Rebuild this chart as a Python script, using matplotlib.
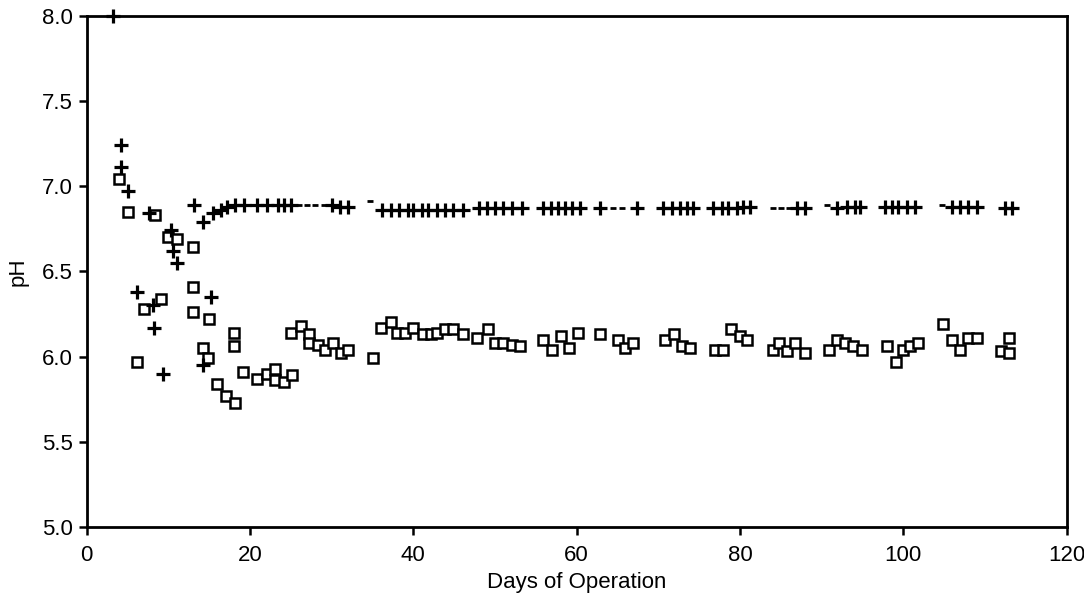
import matplotlib
matplotlib.use("Agg")
import matplotlib.pyplot as plt

plt.rcParams['font.family'] = ['Liberation Sans', 'DejaVu Sans']

# --- pH readings (day, pH) ---

# "+" series
plus_days = [3.2, 4.2, 4.2, 5.1, 7.6, 6.2, 8.1, 8.2, 9.3, 10.3, 10.6, 11.1,
             13.1, 14.3, 14.3, 15.2,
             15.5, 16.4, 17.2, 18.2, 19.2, 20.9, 22.1, 23.4, 24.1, 25.0,
             30.0, 31.0, 32.0,
             36.2, 37.2, 38.2, 39.3, 40.0, 41.1, 41.8, 42.9, 43.9, 44.9, 46.1,
             48.0, 49.0, 50.0, 51.0, 52.1, 53.3,
             55.9, 56.8, 57.7, 58.6, 59.4, 60.4, 62.9, 67.4,
             70.6, 71.7, 72.7, 73.5, 74.3,
             76.7, 77.8, 78.5, 79.6, 80.4, 81.2, 87.0, 88.0,
             91.9, 93.1, 94.1, 94.7,
             97.7, 98.6, 99.3, 100.4, 101.4,
             105.9, 106.9, 107.9, 109.0, 112.4, 113.3]
plus_ph = [8.00, 7.24, 7.11, 6.97, 6.84, 6.38, 6.30, 6.17, 5.90, 6.74, 6.62, 6.55,
           6.89, 6.79, 5.95, 6.35,
           6.84, 6.86, 6.88, 6.89, 6.89, 6.89, 6.89, 6.89, 6.89, 6.89,
           6.89, 6.88, 6.88,
           6.86, 6.86, 6.86, 6.86, 6.86, 6.86, 6.86, 6.86, 6.86, 6.86, 6.86,
           6.87, 6.87, 6.87, 6.87, 6.87, 6.87,
           6.87, 6.87, 6.87, 6.87, 6.87, 6.87, 6.87, 6.87,
           6.87, 6.87, 6.87, 6.87, 6.87,
           6.87, 6.87, 6.87, 6.87, 6.88, 6.88, 6.87, 6.87,
           6.87, 6.88, 6.88, 6.88,
           6.88, 6.88, 6.88, 6.88, 6.88,
           6.88, 6.88, 6.88, 6.88, 6.87, 6.87]

# "+" readings whose vertical stroke is faint in the record
dash_days = [26.0, 27.0, 28.0, 29.0, 34.7, 64.5, 65.5, 84.0, 85.0, 86.0, 90.6, 104.7]
dash_ph = [6.89, 6.89, 6.89, 6.89, 6.91, 6.87, 6.87, 6.87, 6.87, 6.87, 6.89, 6.89]

# open-square series
sq_days = [3.9, 5.0, 8.4, 10.0, 11.1, 13.0, 9.1, 7.0, 13.0, 13.0, 15.0,
           18.0, 18.0, 6.1, 14.3, 14.9, 16.0, 17.0, 18.1, 19.1,
           20.9, 22.1, 23.1, 23.1, 24.1, 25.1,
           25.0, 26.2, 27.2, 27.2, 28.3, 29.2, 30.1, 31.1, 32.0, 35.1,
           36.0, 37.2, 38.0, 39.0, 40.0, 41.2, 42.1, 42.9, 43.9, 44.9, 46.1,
           47.8, 49.1, 50.0, 51.0, 52.1, 53.0,
           55.9, 57.0, 58.1, 59.0, 60.1, 62.9, 65.0, 65.9, 66.9,
           70.8, 71.9, 72.9, 73.9, 76.9, 77.9, 78.9, 80.0, 80.9,
           84.0, 84.8, 85.7, 86.7, 88.0,
           90.9, 91.9, 92.8, 93.8, 94.9,
           98.0, 99.1, 99.9, 100.8, 101.8,
           104.8, 105.9, 107.0, 107.9, 109.0, 112.0, 112.9, 112.9]
sq_ph = [7.04, 6.85, 6.83, 6.70, 6.69, 6.64, 6.34, 6.28, 6.41, 6.26, 6.22,
         6.14, 6.06, 5.97, 6.05, 5.99, 5.84, 5.77, 5.73, 5.91,
         5.87, 5.90, 5.93, 5.86, 5.85, 5.89,
         6.14, 6.18, 6.13, 6.08, 6.07, 6.04, 6.08, 6.02, 6.04, 5.99,
         6.17, 6.20, 6.14, 6.14, 6.17, 6.13, 6.13, 6.14, 6.16, 6.16, 6.13,
         6.11, 6.16, 6.08, 6.08, 6.07, 6.06,
         6.10, 6.04, 6.12, 6.05, 6.14, 6.13, 6.10, 6.05, 6.08,
         6.10, 6.13, 6.06, 6.05, 6.04, 6.04, 6.16, 6.12, 6.10,
         6.04, 6.08, 6.03, 6.08, 6.02,
         6.04, 6.10, 6.08, 6.06, 6.04,
         6.06, 5.97, 6.04, 6.06, 6.08,
         6.19, 6.10, 6.04, 6.11, 6.11, 6.03, 6.11, 6.02]

x_ticks = [0, 20, 40, 60, 80, 100, 120]
y_ticks = [5.0, 5.5, 6.0, 6.5, 7.0, 7.5, 8.0]

# --- Figure ---
fig = plt.figure(figsize=(10.84, 6.03), dpi=100)
ax = fig.add_axes([0.080, 0.126, 0.904, 0.848])

ax.plot(sq_days, sq_ph, linestyle='none', marker='s', markersize=6.5,
        markerfacecolor='white', markeredgecolor='black', markeredgewidth=1.8,
        clip_on=False, zorder=3)
ax.plot(plus_days, plus_ph, linestyle='none', marker='+', markersize=10.5,
        color='black', markeredgewidth=2.3, clip_on=False, zorder=4)
ax.plot(dash_days, dash_ph, linestyle='none', marker='_', markersize=4.5,
        color='black', markeredgewidth=2.0, clip_on=False, zorder=4)

ax.set_xlim(0, 120)
ax.set_ylim(5.0, 8.0)
ax.set_xticks(x_ticks)
ax.set_yticks(y_ticks)
ax.set_yticklabels([f"{v:.1f}" for v in y_ticks])

for side in ['left', 'right', 'top', 'bottom']:
    ax.spines[side].set_linewidth(2.0)
    ax.spines[side].set_color('black')

ax.tick_params(axis='both', direction='out', length=6, width=1.8,
               labelsize=16, colors='black')
ax.tick_params(axis='y', pad=4)
ax.tick_params(axis='x', pad=7)

ax.set_xlabel("Days of Operation", fontsize=16, labelpad=4)
ax.set_ylabel("pH", fontsize=16, labelpad=10)

fig.savefig("out.png", dpi=100, facecolor='white')
